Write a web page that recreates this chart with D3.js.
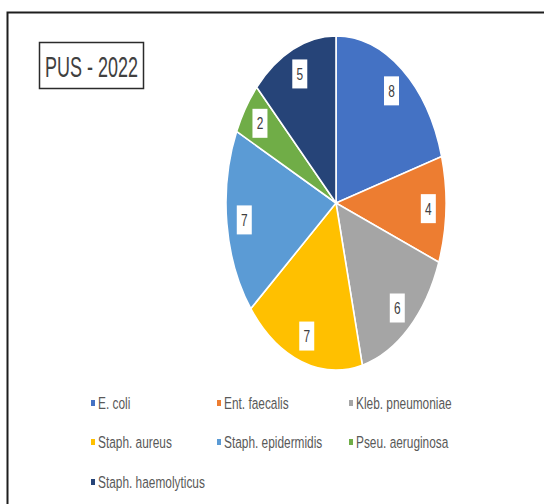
<!DOCTYPE html>
<html><head><meta charset="utf-8">
<script src="https://cdn.jsdelivr.net/npm/d3@7"></script>
<style>html,body{margin:0;padding:0;background:#fff;} svg{display:block}</style>
</head><body>
<svg id="chart" width="544" height="504"></svg>
<script>
// Isolates found in pus samples, 2022
const categories = ["E. coli", "Ent. faecalis", "Kleb. pneumoniae", "Staph. aureus",
                    "Staph. epidermidis", "Pseu. aeruginosa", "Staph. haemolyticus"];
const counts = [8, 4, 6, 7, 7, 2, 5];
const sliceColors = ["#4472C4", "#ED7D31", "#A5A5A5", "#FFC000", "#5B9BD5", "#70AD47", "#264478"];
const chartTitle = "PUS - 2022";

const svg = d3.select("#chart");
const font = "'Liberation Sans', Arial, sans-serif";

// outer frame (top and left edges)
svg.append("path")
  .attr("d", "M7.5,504 V12.5 H544")
  .attr("fill", "none").attr("stroke", "#1e1e1e").attr("stroke-width", 2);

// title box
svg.append("rect")
  .attr("x", 39.5).attr("y", 42.5).attr("width", 104).attr("height", 46)
  .attr("fill", "#fff").attr("stroke", "#2b2b2b").attr("stroke-width", 1.5);
svg.append("g").attr("transform", "translate(91.5,77)")
  .append("text").attr("transform", "scale(0.62,1)")
  .attr("text-anchor", "middle").attr("font-family", font).attr("font-size", 29)
  .attr("fill", "#404040").text(chartTitle);

// pie: an ellipse, drawn as a circle stretched vertically
const cx = 336, cy = 203, rx = 110, ry = 167, sy = ry / rx;
const pie = d3.pie().sort(null).value(d => d);
const arcs = pie(counts);
const arc = d3.arc().innerRadius(0).outerRadius(rx);
const labelArc = d3.arc().innerRadius(rx * 0.84).outerRadius(rx * 0.84);
const color = d3.scaleOrdinal().domain(categories).range(sliceColors);

svg.append("g").attr("transform", `translate(${cx},${cy}) scale(1,${sy})`)
  .selectAll("path").data(arcs).join("path")
  .attr("d", arc)
  .attr("fill", (d, i) => color(categories[i]))
  .attr("stroke", "#fff").attr("stroke-width", 1.6)
  .attr("vector-effect", "non-scaling-stroke");

// value labels in white boxes
const lab = svg.append("g").selectAll("g").data(arcs).join("g")
  .attr("transform", d => {
    const [x, y] = labelArc.centroid(d);
    return `translate(${cx + x},${cy + y * sy})`;
  });
lab.append("rect").attr("x", -7.5).attr("y", -14.5).attr("width", 15).attr("height", 29)
  .attr("fill", "#fff");
lab.append("text").attr("transform", "scale(0.7,1)")
  .attr("text-anchor", "middle").attr("y", 6)
  .attr("font-family", font).attr("font-size", 17).attr("fill", "#404040")
  .text(d => d.data);

// legend, three columns
const colX = [91, 217, 349];
const rowY = [403, 442, 482];
const leg = svg.append("g").selectAll("g").data(categories).join("g")
  .attr("transform", (d, i) => `translate(${colX[i % 3]},${rowY[Math.floor(i / 3)]})`);
leg.append("rect").attr("x", 0).attr("y", -3).attr("width", 4).attr("height", 6)
  .attr("fill", d => color(d));
leg.append("g").attr("transform", "translate(7,6)")
  .append("text").attr("transform", "scale(0.72,1)")
  .attr("font-family", font).attr("font-size", 16.5).attr("fill", "#595959")
  .text(d => d);
</script>
</body></html>
